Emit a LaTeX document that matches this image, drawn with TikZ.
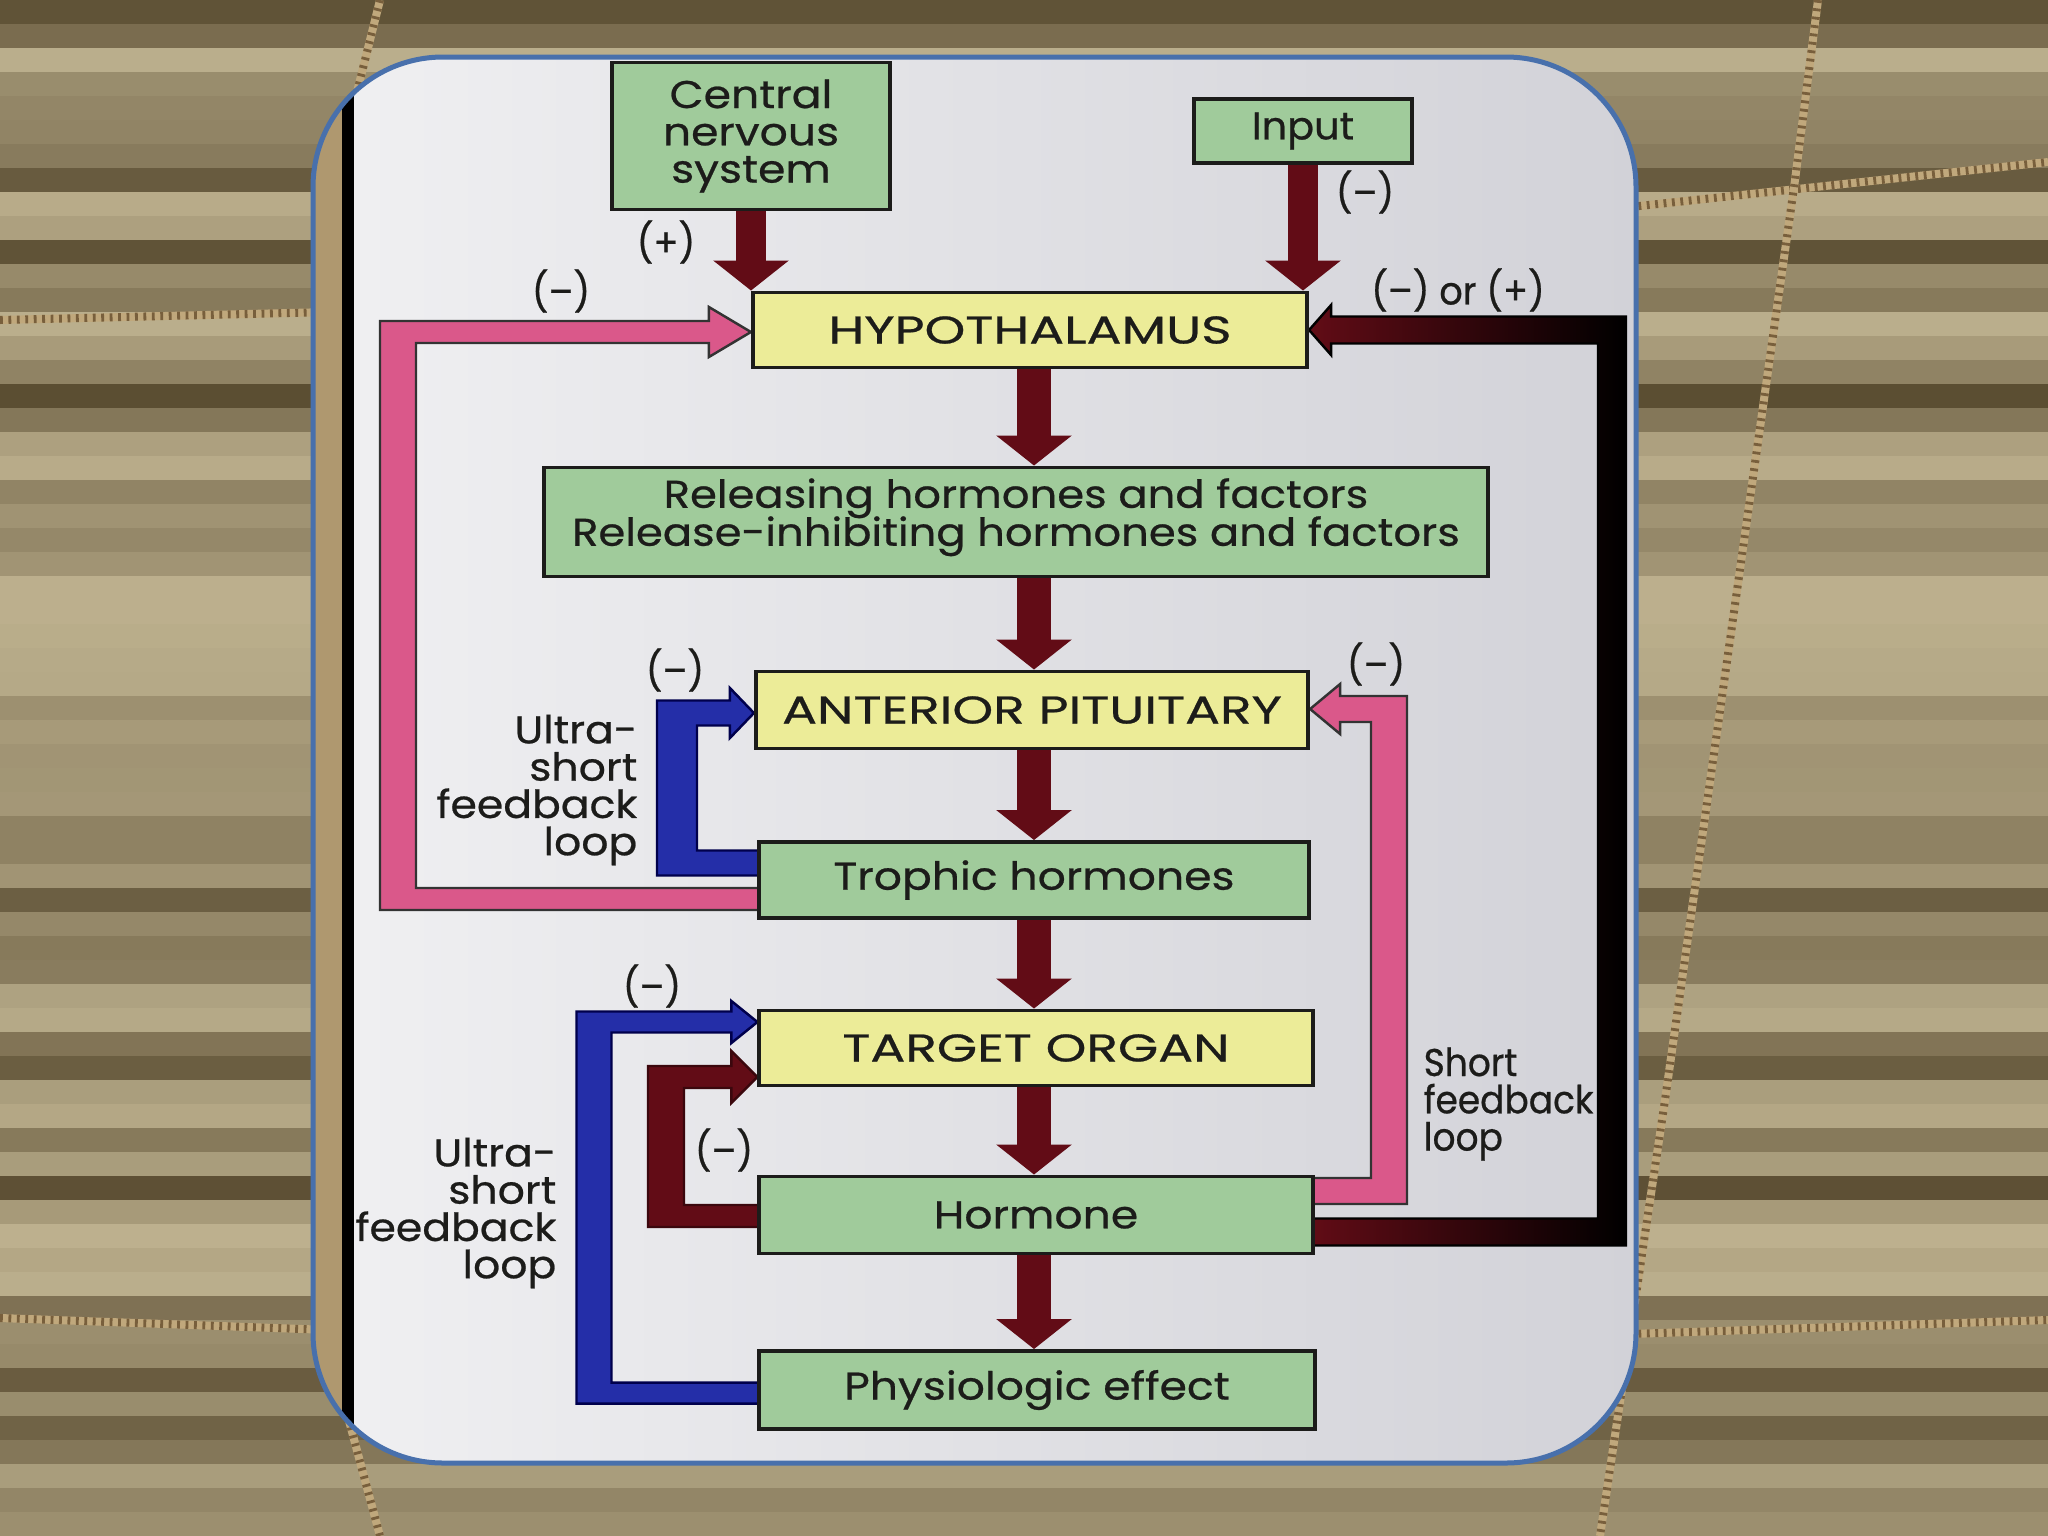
\documentclass[tikz,border=0pt]{standalone}
\usepackage{fontspec}
\usetikzlibrary{arrows.meta,calc}
\pgfdeclarelayer{bg}
\pgfsetlayers{bg,main}
\newfontfamily\lcfont[FakeStretch=1.14,FakeBold=0.6]{Poppins}
\newfontfamily\relfont[FakeStretch=1.12,FakeBold=0.6]{Poppins}
\newfontfamily\ucfont[FakeStretch=1.34,FakeBold=0.6]{Poppins}
\newfontfamily\notefont[FakeStretch=1.1,FakeBold=0.6]{Poppins}
\newfontfamily\shortfont[FakeStretch=0.93,FakeBold=0.6]{Poppins}
\newfontfamily\pmfont[FakeStretch=0.95,FakeBold=0.6]{Poppins}
\newfontfamily\inputfont[FakeStretch=1.03,FakeBold=0.6]{Poppins}
\definecolor{boxgreen}{RGB}{160,203,155}
\definecolor{boxyellow}{RGB}{236,236,152}
\definecolor{maroonc}{RGB}{98,12,22}
\definecolor{pinkloop}{RGB}{218,88,138}
\definecolor{blueloop}{RGB}{36,46,168}
\definecolor{panelblue}{RGB}{72,112,172}
\definecolor{pageL}{RGB}{240,240,242}
\definecolor{pageR}{RGB}{210,210,216}
\definecolor{inkc}{RGB}{28,28,26}
\definecolor{bgA}{RGB}{210,198,162}
\definecolor{bgB}{RGB}{78,64,38}
\definecolor{ropeA}{RGB}{192,168,124}
\definecolor{ropeB}{RGB}{120,95,60}
% elbow-shaped thick feedback arrow, loop on the left
\newcommand\elbowL[8]{\filldraw[#1] ($(#2)+(0,-#5)$) -- ($(#4|-#2)+(#6,-#5)$) -- ($(#4|-#3)+(#6,#5)$) -- ($(#3)+(-#8,#5)$) -- ($(#3)+(-#8,#7)$) -- (#3) -- ($(#3)+(-#8,-#7)$) -- ($(#3)+(-#8,-#5)$) -- ($(#4|-#3)+(-#6,-#5)$) -- ($(#4|-#2)+(-#6,#5)$) -- ($(#2)+(0,#5)$) -- cycle;}
% loop on the right
\newcommand\elbowR[8]{\filldraw[#1] ($(#2)+(0,-#5)$) -- ($(#4|-#2)+(-#6,-#5)$) -- ($(#4|-#3)+(-#6,#5)$) -- ($(#3)+(#8,#5)$) -- ($(#3)+(#8,#7)$) -- (#3) -- ($(#3)+(#8,-#7)$) -- ($(#3)+(#8,-#5)$) -- ($(#4|-#3)+(#6,-#5)$) -- ($(#4|-#2)+(#6,#5)$) -- ($(#2)+(0,#5)$) -- cycle;}
\newcommand\sz{\fontsize{11pt}{10.6pt}\selectfont\lineskiplimit=-\maxdimen}
\tikzset{
  every node/.style={font=\lcfont\sz, text=inkc},
  box/.style={draw=inkc, line width=1.1pt, inner sep=0pt, align=center},
  gbox/.style={box, fill=boxgreen},
  ybox/.style={box, fill=boxyellow, font=\ucfont\sz},
  marrow/.style={draw=maroonc, line width=0.34cm, -{Triangle[width=0.74cm,length=0.3cm]}},
  band/.style={line width=0.7pt, line join=miter},
  pinkband/.style={band, fill=pinkloop, draw=black!80},
  blueband/.style={band, fill=blueloop, draw=blue!30!black},
  maroonband/.style={band, fill=maroonc, draw=maroonc!60!black},
  darkband/.style={band, left color=maroonc, right color=black, draw=black},
  lbl/.style={inner sep=0pt, font=\pmfont\sz},
  note/.style={inner sep=0pt, align=right, font=\notefont\sz},
  rope/.style={line width=0.08cm, ropeA, postaction={draw=ropeB, line width=0.08cm, dash pattern=on 0.8pt off 1.6pt}}
}
\begin{document}
\begin{tikzpicture}[x=0.01cm,y=-0.01cm]
\useasboundingbox (0,0) rectangle (2048,1536);
% ---- boxes
\node[gbox, minimum width=2.77cm, minimum height=1.47cm] (cns) at (751,136) {Central\\nervous\\system};
\node[gbox, minimum width=2.18cm, minimum height=0.64cm, font=\inputfont\sz] (input) at (1303,131) {Input};
\node[ybox, minimum width=5.54cm, minimum height=0.75cm] (hyp) at (1030,330) {HYPOTHALAMUS};
\node[gbox, minimum width=9.43cm, minimum height=1.09cm, font={\relfont\fontsize{11pt}{10.8pt}\selectfont\lineskiplimit=-\maxdimen}] (rel) at (1016,522) {Releasing hormones and factors\\Release-inhibiting hormones and factors\rule[-0.2cm]{0pt}{0.2cm}};
\node[ybox, minimum width=5.52cm, minimum height=0.77cm] (ap) at (1032,710) {ANTERIOR PITUITARY};
\node[gbox, minimum width=5.50cm, minimum height=0.76cm] (troph) at (1034,880) {Trophic hormones};
\node[ybox, minimum width=5.53cm, minimum height=0.75cm] (target) at (1036,1048) {TARGET ORGAN};
\node[gbox, minimum width=5.53cm, minimum height=0.77cm] (hormone) at (1036,1215) {Hormone};
\node[gbox, minimum width=5.56cm, minimum height=0.78cm] (phys) at (1037,1390) {Physiologic effect};
% ---- labels
\node[lbl] (l1) at (666,242) {(+)};
\node[lbl] (l2) at (561,291) {(–)};
\node[lbl] (l3) at (1365,192) {(–)};
\node[lbl] (l4) at (1458,290) {(–) or (+)};
\node[lbl] (l5) at (675,670) {(–)};
\node[lbl] (l6) at (1376,664) {(–)};
\node[lbl] (l7) at (652,986) {(–)};
\node[lbl] (l8) at (724,1150) {(–)};
\node[note, anchor=east] (u1) at (638,790) {Ultra-\\short\\feedback\\loop};
\node[note, anchor=east] (u2) at (557,1213) {Ultra-\\short\\feedback\\loop};
\node[note, anchor=west, align=left, font=\shortfont\sz] (s1) at (1423,1104) {Short\\feedback\\loop};
\begin{pgfonlayer}{bg}
% ---- background photo imitation
\fill[bgB!60!bgA] (0,0) rectangle (2048,1536);
\pgfmathsetseed{3}
\foreach \i in {0,...,63} {
  \pgfmathtruncatemacro\s{8+78*rnd}
  \fill[bgA!\s!bgB] (0,\i*24) rectangle (2048,\i*24+24);
}
\draw[rope] (0,320) -- (330,312);
\draw[rope] (1630,207) -- (2048,162);
\draw[rope] (0,1318) -- (330,1330);
\draw[rope] (1630,1334) -- (2048,1320);
\draw[rope] (1818,0) -- (1795,180) -- (1665,1100) -- (1600,1536);
\draw[rope] (380,0) -- (340,160) -- (330,1350) -- (380,1536);
% ---- panel
\begin{scope}
\clip[rounded corners=1.3cm] (313,57) rectangle (1636,1463);
\shade[left color=pageL, right color=pageR] (313,57) rectangle (1636,1463);
\fill[ropeA!85!bgB] (313,57) rectangle (342,1463);
\fill[black] (342,57) rectangle (354,1463);
\end{scope}
% ---- feedback loops
\coordinate (plS) at ($(troph.west)+(4,19)$);
\coordinate (plT) at ($(hyp.west)+(0,2)$);
\coordinate (plV) at (398,0);
\elbowL{pinkband}{plS}{plT}{plV}{11}{18}{25}{42}
\coordinate (buS) at ($(troph.west)+(4,-17)$);
\coordinate (buT) at ($(ap.west)+(0,3)$);
\coordinate (buV) at (677,0);
\elbowL{blueband}{buS}{buT}{buV}{12.5}{20}{25}{24}
\coordinate (blS) at ($(phys.west)+(4,3)$);
\coordinate (blT) at ($(target.west)+(0,-26)$);
\coordinate (blV) at (594,0);
\elbowL{blueband}{blS}{blT}{blV}{10.5}{17.5}{21}{26}
\coordinate (msS) at ($(hormone.west)+(4,1)$);
\coordinate (msT) at ($(target.west)+(0,29)$);
\coordinate (msV) at (666,0);
\elbowL{maroonband}{msS}{msT}{msV}{11}{18}{26}{26}
\coordinate (prS) at ($(hormone.east)+(-4,-24)$);
\coordinate (prT) at ($(ap.east)+(0,-1)$);
\coordinate (prV) at (1389,0);
\elbowR{pinkband}{prS}{prT}{prV}{13}{18}{25}{30}
\coordinate (drS) at ($(hormone.east)+(-4,17)$);
\coordinate (drT) at (hyp.east);
\coordinate (drV) at (1612,0);
\elbowR{darkband}{drS}{drT}{drV}{13.5}{14}{25}{22}
% ---- main arrows
\coordinate (ax) at (1034,0);
\draw[marrow, line width=0.3cm] (cns.south) -- (cns.south |- hyp.north);
\draw[marrow, line width=0.3cm] (input.south) -- (input.south |- hyp.north);
\draw[marrow] (hyp.south -| ax) -- (rel.north -| ax);
\draw[marrow] (rel.south -| ax) -- (ap.north -| ax);
\draw[marrow] (ap.south -| ax) -- (troph.north -| ax);
\draw[marrow] (troph.south -| ax) -- (target.north -| ax);
\draw[marrow] (target.south -| ax) -- (hormone.north -| ax);
\draw[marrow] (hormone.south -| ax) -- (phys.north -| ax);
\end{pgfonlayer}
% ---- panel border
\draw[panelblue, line width=0.05cm, rounded corners=1.3cm] (313,57) rectangle (1636,1463);
\end{tikzpicture}
\end{document}
